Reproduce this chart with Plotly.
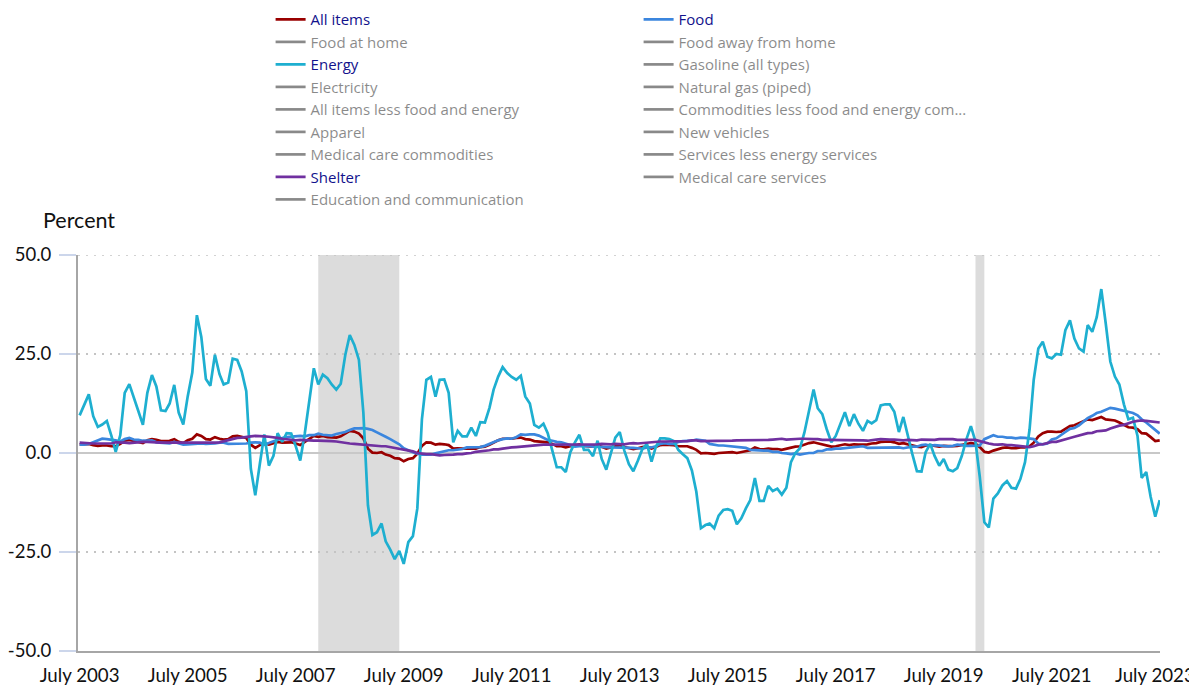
import pandas as pd
import plotly.graph_objects as go

# ---------------- data ----------------
months = pd.date_range("2003-07-01", "2023-07-01", freq="MS")

all_items = [
    2.1, 2.2, 2.3, 2.0, 1.8, 1.9,                                   # 2003 Jul-Dec
    1.9, 1.7, 1.7, 2.3, 3.1, 3.3, 3.0, 2.7, 2.5, 3.2, 3.5, 3.3,     # 2004
    3.0, 3.0, 3.1, 3.5, 2.8, 2.5, 3.2, 3.6, 4.7, 4.3, 3.5, 3.4,     # 2005
    4.0, 3.6, 3.4, 3.5, 4.2, 4.3, 4.1, 3.8, 2.1, 1.3, 2.0, 2.5,     # 2006
    2.1, 2.4, 2.8, 2.6, 2.7, 2.7, 2.4, 2.0, 2.8, 3.5, 4.3, 4.1,     # 2007
    4.3, 4.0, 4.0, 3.9, 4.2, 5.0, 5.6, 5.4, 4.9, 3.7, 1.1, 0.1,     # 2008
    0.0, 0.2, -0.4, -0.7, -1.3, -1.4, -2.1, -1.5, -1.3, -0.2, 1.8, 2.7,  # 2009
    2.6, 2.1, 2.3, 2.2, 2.0, 1.1, 1.2, 1.1, 1.1, 1.2, 1.1, 1.5,     # 2010
    1.6, 2.1, 2.7, 3.2, 3.6, 3.6, 3.6, 3.8, 3.9, 3.5, 3.4, 3.0,     # 2011
    2.9, 2.9, 2.7, 2.3, 1.7, 1.7, 1.4, 1.7, 2.0, 2.2, 1.8, 1.7,     # 2012
    1.6, 2.0, 1.5, 1.1, 1.4, 1.8, 2.0, 1.5, 1.2, 1.0, 1.2, 1.5,     # 2013
    1.6, 1.1, 1.5, 2.0, 2.1, 2.1, 2.0, 1.7, 1.7, 1.7, 1.3, 0.8,     # 2014
    -0.1, 0.0, -0.1, -0.2, 0.0, 0.1, 0.2, 0.2, 0.0, 0.2, 0.5, 0.7,  # 2015
    1.4, 1.0, 0.9, 1.1, 1.0, 1.0, 0.8, 1.1, 1.5, 1.6, 1.7, 2.1,     # 2016
    2.5, 2.7, 2.4, 2.2, 1.9, 1.6, 1.7, 1.9, 2.2, 2.0, 2.2, 2.1,     # 2017
    2.1, 2.2, 2.4, 2.5, 2.8, 2.9, 2.9, 2.7, 2.3, 2.5, 2.2, 1.9,     # 2018
    1.6, 1.5, 1.9, 2.0, 1.8, 1.6, 1.8, 1.7, 1.7, 1.8, 2.1, 2.3,     # 2019
    2.5, 2.3, 1.5, 0.3, 0.1, 0.6, 1.0, 1.3, 1.4, 1.2, 1.2, 1.4,     # 2020
    1.4, 1.7, 2.6, 4.2, 5.0, 5.4, 5.4, 5.3, 5.4, 6.2, 6.8, 7.0,     # 2021
    7.5, 7.9, 8.5, 8.3, 8.6, 9.1, 8.5, 8.3, 8.2, 7.7, 7.1, 6.5,     # 2022
    6.4, 6.0, 5.0, 4.9, 4.0, 3.0, 3.2,                              # 2023 Jan-Jul
]

food = [
    2.1, 2.1, 2.3, 2.7, 3.2, 3.6,
    3.5, 3.4, 3.2, 2.9, 3.5, 3.8, 3.4, 3.3, 3.1, 3.1, 3.2, 2.7,
    2.6, 2.5, 2.4, 2.8, 2.5, 2.1, 2.2, 2.3, 2.3, 2.4, 2.3, 2.3,
    2.4, 2.6, 2.6, 2.3, 2.3, 2.3, 2.3, 2.4, 2.6, 2.7, 2.6, 2.1,
    2.5, 3.0, 3.4, 3.8, 4.0, 4.1, 4.1, 4.3, 4.2, 4.5, 4.5, 4.9,
    4.6, 4.5, 4.4, 4.8, 5.1, 5.3, 5.8, 6.2, 6.2, 6.3, 6.1, 5.8,
    5.2, 4.7, 4.1, 3.5, 2.8, 2.2, 1.2, 0.6, 0.2, -0.2, -0.4, -0.4,
    -0.4, -0.1, 0.1, 0.4, 0.7, 0.7, 0.9, 1.0, 1.4, 1.4, 1.4, 1.5,
    1.8, 2.3, 2.9, 3.2, 3.5, 3.7, 3.6, 4.0, 4.7, 4.6, 4.7, 4.7,
    4.4, 3.9, 3.3, 3.1, 2.8, 2.7, 2.3, 2.0, 1.6, 1.7, 1.8, 1.8,
    1.6, 1.6, 1.5, 1.5, 1.4, 1.4, 1.4, 1.4, 1.4, 1.3, 1.2, 1.1,
    1.4, 1.4, 1.7, 2.3, 2.5, 2.3, 2.3, 2.8, 3.0, 3.0, 3.1, 3.4,
    3.2, 3.1, 2.3, 2.1, 1.9, 1.9, 1.8, 1.6, 1.6, 1.4, 1.3, 0.8,
    0.7, 0.6, 0.6, 0.6, 0.3, 0.3, 0.0, -0.1, -0.3, -0.1, -0.4, -0.2,
    0.0, 0.0, 0.5, 0.5, 0.9, 0.9, 1.1, 1.1, 1.2, 1.3, 1.4, 1.6,
    1.7, 1.3, 1.3, 1.4, 1.3, 1.4, 1.4, 1.4, 1.4, 1.2, 1.4, 1.6,
    1.6, 2.0, 2.1, 1.8, 2.0, 1.9, 1.8, 1.7, 1.8, 2.1, 2.0, 1.8,
    1.8, 1.8, 1.9, 3.5, 4.0, 4.5, 4.1, 4.1, 3.9, 3.9, 3.7, 3.9,
    3.8, 3.6, 3.5, 2.4, 2.2, 2.4, 3.4, 3.7, 4.6, 5.3, 6.1, 6.3,
    7.0, 7.9, 8.8, 9.4, 10.1, 10.4, 10.9, 11.4, 11.2, 10.9, 10.6, 10.4,
    10.1, 9.5, 8.5, 7.7, 6.7, 5.7, 4.9,
]

energy = [
    9.5, 12.3, 14.8, 9.3, 6.6, 7.2,
    8.1, 4.3, 0.3, 4.5, 15.2, 17.4, 14.3, 10.6, 7.1, 15.2, 19.7, 16.8,
    10.8, 10.6, 12.5, 17.2, 10.2, 7.2, 14.3, 20.3, 34.8, 29.3, 18.7, 17.0,
    24.8, 19.9, 17.3, 17.8, 23.8, 23.5, 20.6, 15.6, -4.0, -10.7, -2.7, 4.7,
    -3.2, -0.7, 5.0, 2.8, 5.0, 4.9, 1.8, -1.9, 5.0, 12.7, 21.4, 17.3,
    19.8, 18.9, 17.3, 16.0, 17.5, 24.8, 29.8, 27.3, 23.5, 10.2, -13.2, -20.7,
    -20.0, -17.8, -22.3, -24.4, -26.8, -24.7, -28.0, -22.5, -21.0, -14.0, 8.5, 18.5,
    19.2, 14.2, 18.5, 18.6, 15.2, 2.7, 5.6, 4.2, 4.2, 6.4, 4.3, 7.8,
    7.7, 11.4, 16.0, 19.3, 21.7, 20.2, 19.2, 18.5, 19.5, 14.3, 12.5, 7.1,
    6.4, 7.4, 5.0, 0.6, -3.6, -3.6, -4.8, 0.2, 2.7, 4.6, 0.8, 0.8,
    -0.8, 3.1, -1.5, -4.2, -0.3, 3.9, 5.3, 0.6, -2.8, -4.6, -1.9, 1.0,
    2.3, -2.2, 1.4, 3.7, 3.7, 3.5, 3.0, 0.8, -0.3, -1.3, -4.4, -9.8,
    -19.0, -18.2, -17.8, -19.0, -15.8, -14.4, -14.2, -14.6, -18.0, -16.5, -14.0, -11.9,
    -6.3, -12.1, -12.1, -8.3, -9.6, -9.0, -10.5, -8.8, -2.3, 0.0, 1.2, 5.2,
    10.6, 16.0, 11.3, 9.8, 6.0, 2.7, 4.3, 7.3, 10.3, 6.8, 9.8, 7.4,
    5.6, 8.1, 7.5, 8.3, 12.0, 12.3, 12.3, 10.4, 5.3, 9.1, 3.9, -0.3,
    -4.6, -4.7, 0.2, 2.3, -0.8, -3.2, -1.5, -4.2, -4.6, -3.8, -0.7, 3.4,
    6.8, 2.9, -6.0, -17.5, -18.8, -11.5, -10.2, -8.2, -7.1, -8.8, -9.0, -6.5,
    -2.3, 6.0, 18.5, 26.4, 28.1, 24.3, 23.9, 25.0, 24.8, 31.0, 33.5, 28.9,
    26.4, 25.6, 32.3, 30.6, 34.3, 41.4, 32.7, 23.1, 19.3, 17.3, 12.3, 8.5,
    8.9, 4.3, -6.3, -4.8, -11.1, -16.1, -11.9,
]

shelter = [
    2.6, 2.5, 2.4, 2.4, 2.4, 2.4,
    2.3, 2.4, 2.7, 2.7, 2.6, 2.5, 2.6, 2.8, 2.8, 2.8, 2.8, 2.7,
    2.6, 2.6, 2.6, 2.6, 2.6, 2.6, 2.5, 2.5, 2.6, 2.5, 2.5, 2.5,
    2.6, 2.7, 3.0, 3.3, 3.5, 3.8, 3.9, 4.1, 4.2, 4.3, 4.3, 4.2,
    4.1, 4.0, 3.8, 3.6, 3.5, 3.3, 3.2, 3.3, 3.2, 3.2, 3.1, 3.1,
    3.1, 3.1, 3.0, 2.9, 2.7, 2.5, 2.4, 2.3, 2.2, 2.0, 1.9, 1.9,
    1.8, 1.7, 1.7, 1.5, 1.3, 1.1, 0.8, 0.6, 0.4, 0.0, -0.2, -0.3,
    -0.3, -0.5, -0.6, -0.5, -0.5, -0.4, -0.3, -0.3, -0.1, 0.0, 0.3, 0.4,
    0.6, 0.7, 0.9, 0.9, 1.1, 1.3, 1.4, 1.5, 1.6, 1.8, 1.9, 1.9,
    2.0, 2.1, 2.1, 2.1, 2.1, 2.1, 2.2, 2.1, 2.1, 2.1, 2.1, 2.2,
    2.2, 2.2, 2.3, 2.2, 2.2, 2.3, 2.2, 2.2, 2.4, 2.5, 2.4, 2.5,
    2.6, 2.8, 2.8, 2.9, 2.9, 2.9, 3.0, 3.0, 3.0, 3.0, 3.2, 3.2,
    3.0, 3.0, 3.0, 3.0, 3.0, 3.1, 3.0, 3.1, 3.2, 3.2, 3.2, 3.2,
    3.2, 3.3, 3.2, 3.3, 3.4, 3.5, 3.6, 3.4, 3.5, 3.5, 3.6, 3.6,
    3.5, 3.5, 3.5, 3.3, 3.3, 3.3, 3.3, 3.3, 3.2, 3.2, 3.2, 3.2,
    3.2, 3.1, 3.3, 3.4, 3.5, 3.4, 3.4, 3.4, 3.3, 3.2, 3.3, 3.2,
    3.2, 3.4, 3.4, 3.4, 3.3, 3.5, 3.5, 3.4, 3.5, 3.3, 3.3, 3.2,
    3.3, 3.3, 3.0, 2.6, 2.4, 2.2, 2.1, 2.2, 2.0, 2.0, 1.9, 1.8,
    1.6, 1.5, 1.7, 2.1, 2.2, 2.6, 2.8, 2.8, 3.2, 3.5, 3.8, 4.1,
    4.4, 4.7, 5.0, 5.1, 5.5, 5.6, 5.7, 6.2, 6.6, 6.9, 7.1, 7.5,
    7.9, 8.1, 8.2, 8.1, 8.0, 7.8, 7.7,
]

shown_series = {
    "All items": (all_items, "#990000"),
    "Food": (food, "#3b86de"),
    "Energy": (energy, "#1eafd0"),
    "Shelter": (shelter, "#7030a0"),
}

legend_order = [
    "All items", "Food",
    "Food at home", "Food away from home",
    "Energy", "Gasoline (all types)",
    "Electricity", "Natural gas (piped)",
    "All items less food and energy", "Commodities less food and energy com...",
    "Apparel", "New vehicles",
    "Medical care commodities", "Services less energy services",
    "Shelter", "Medical care services",
    "Education and communication",
]

recessions = [("2007-12-01", "2009-06-01"), ("2020-02-01", "2020-04-01")]

x_tick_dates = ["2003-07-01", "2005-07-01", "2007-07-01", "2009-07-01", "2011-07-01",
                "2013-07-01", "2015-07-01", "2017-07-01", "2019-07-01", "2021-07-01",
                "2023-07-01"]
x_tick_labels = ["July 2003", "July 2005", "July 2007", "July 2009", "July 2011",
                 "July 2013", "July 2015", "July 2017", "July 2019", "July 2021",
                 "July 2023"]
y_ticks = [-50, -25, 0, 25, 50]
y_tick_labels = ["-50.0", "-25.0", "0.0", "25.0", "50.0"]

# ---------------- figure ----------------
fig = go.Figure()
hidden_color = "#151515"
for name in legend_order:
    if name in shown_series:
        vals, col = shown_series[name]
        fig.add_trace(go.Scatter(x=months, y=vals, mode="lines", name=name,
                                 line=dict(color=col, width=2.7)))
    else:
        # series not selected in the original chart: listed in the legend only
        fig.add_trace(go.Scatter(x=months, y=[None] * len(months), mode="lines",
                                 name=f"<span style='color:{hidden_color}'>{name}</span>",
                                 visible="legendonly",
                                 line=dict(color=hidden_color, width=2.7)))

for a, b in recessions:
    fig.add_shape(type="rect", xref="x", yref="paper", x0=a, x1=b, y0=0, y1=1,
                  fillcolor="#dcdcdc", line=dict(width=0), layer="between")

# top dotted gridline (plotly omits the grid line at the range edge)
fig.add_shape(type="line", xref="paper", yref="y", x0=0, x1=1,
              y0=y_ticks[-1], y1=y_ticks[-1],
              line=dict(color="#c4c4c4", width=1.5, dash="2px,6px"), layer="below")

fig.add_annotation(text="Percent", xref="paper", yref="paper", x=-0.034, y=1.088,
                   xanchor="left", yanchor="middle", showarrow=False,
                   font=dict(size=21.5, color="#111"))

# last x label is nudged left so it stays inside the page (as in the original)
tick_font = dict(family="Lato, sans-serif", size=18.7, color="#111")
fig.add_annotation(text=x_tick_labels[-1], xref="x", yref="paper",
                   x=x_tick_dates[-1], y=0, xanchor="center", yanchor="middle",
                   yshift=-24, xshift=-5, showarrow=False, font=tick_font)

fig.update_layout(
    width=1189, height=677,
    margin=dict(l=70, r=37, t=247, b=34, autoexpand=False),
    paper_bgcolor="white", plot_bgcolor="white",
    font=dict(family="Lato, sans-serif", size=19, color="#111"),
    showlegend=True,
    legend=dict(orientation="h", x=0.178, xanchor="left", y=1.636, yanchor="top",
                entrywidth=323, entrywidthmode="pixels",
                font=dict(family="Open Sans, sans-serif", size=15, color="#12128c"),
                bgcolor="rgba(0,0,0,0)", traceorder="normal"),
    xaxis=dict(type="date", range=["2003-06-20", "2023-07-03"],
               tickvals=x_tick_dates, ticktext=x_tick_labels[:-1] + [""],
               showgrid=False, zeroline=False, showline=True,
               linecolor="#a6a6a6", linewidth=2, ticks="",
               ticklabelstandoff=7, tickfont=tick_font),
    yaxis=dict(range=[-50, 50], tickvals=y_ticks, ticktext=y_tick_labels,
               showgrid=True, gridcolor="#c4c4c4", griddash="2px,6px", gridwidth=1.5,
               zeroline=True, zerolinecolor="#c8c8c8", zerolinewidth=2,
               showline=True, linecolor="#a6a6a6", linewidth=2,
               ticks="outside", ticklen=17, tickwidth=2, tickcolor="#ccd6eb",
               ticklabelstandoff=4, tickfont=dict(size=18.5, color="#111")),
)

fig.write_html("out.html")
